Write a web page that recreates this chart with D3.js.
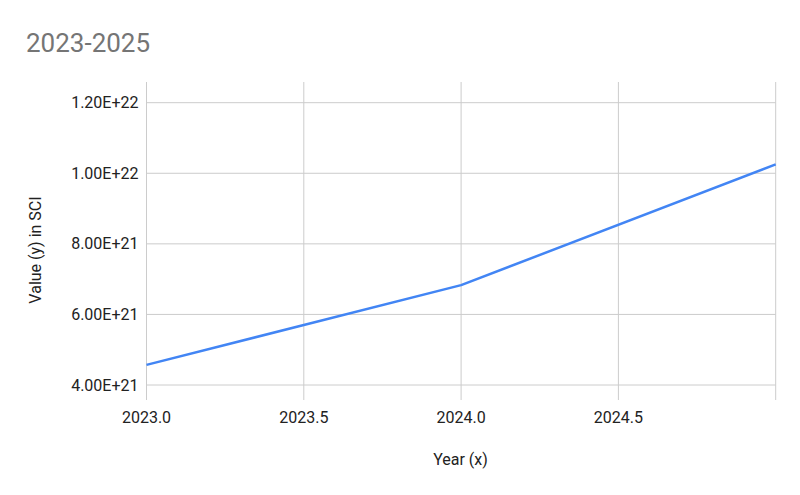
<!DOCTYPE html>
<html><head><meta charset="utf-8">
<script src="https://cdn.jsdelivr.net/npm/d3@7"></script>
<style>body{margin:0;background:#fff;} text{font-family:Roboto,"Liberation Sans",Arial,sans-serif;}</style>
</head><body>
<svg id="c" width="800" height="495"></svg>
<script>
const years = [2023, 2024, 2025];
const values = [4.57e21, 6.83e21, 1.025e22];
const xTicks = [2023.0, 2023.5, 2024.0, 2024.5, 2025.0];
const xTickLabels = ["2023.0", "2023.5", "2024.0", "2024.5", ""];
const yTicks = [4e21, 6e21, 8e21, 1e22, 1.2e22];
const yTickLabels = ["4.00E+21", "6.00E+21", "8.00E+21", "1.00E+22", "1.20E+22"];
const title = "2023-2025";
const xTitle = "Year (x)";
const yTitle = "Value (y) in SCI";

(function () {
const svg = d3.select("#c");
const mLeft = 146.5, mRight = 775.7, mTop = 82, mBottom = 400;
const x = d3.scaleLinear().domain([2023, 2025]).range([mLeft, mRight]);
const y = d3.scaleLinear().domain([4e21, 1.2e22]).range([385, 102.7]);

svg.append("g").selectAll("line").data(yTicks).join("line")
  .attr("x1", mLeft).attr("x2", mRight)
  .attr("y1", d => y(d)).attr("y2", d => y(d))
  .attr("stroke", "#cccccc").attr("stroke-width", 1);
svg.append("g").selectAll("line").data(xTicks).join("line")
  .attr("x1", d => x(d)).attr("x2", d => x(d))
  .attr("y1", mTop).attr("y2", mBottom)
  .attr("stroke", "#cccccc").attr("stroke-width", 1);

svg.append("g").selectAll("text").data(yTicks).join("text")
  .attr("x", mLeft - 8).attr("y", d => y(d)).attr("dy", "0.35em")
  .attr("text-anchor", "end").attr("font-size", 16).attr("fill", "#222")
  .text((d, i) => yTickLabels[i]);
svg.append("g").selectAll("text").data(xTicks).join("text")
  .attr("x", d => x(d)).attr("y", 423)
  .attr("text-anchor", "middle").attr("font-size", 16).attr("fill", "#222")
  .text((d, i) => xTickLabels[i]);

const data = years.map((yr, i) => ({x: yr, y: values[i]}));
svg.append("path").datum(data)
  .attr("d", d3.line().x(d => x(d.x)).y(d => y(d.y)))
  .attr("fill", "none").attr("stroke", "#4285f4").attr("stroke-width", 2.5)
  .attr("stroke-linejoin", "round");

svg.append("text").attr("x", 26).attr("y", 52).attr("font-size", 26).attr("fill", "#757575").text(title);
svg.append("text").attr("x", 460.5).attr("y", 465).attr("text-anchor", "middle")
  .attr("font-size", 16).attr("fill", "#222").text(xTitle);
svg.append("text").attr("transform", `translate(41,250) rotate(-90)`)
  .attr("text-anchor", "middle").attr("font-size", 16).attr("fill", "#222").text(yTitle);
})();
</script>
</body></html>
